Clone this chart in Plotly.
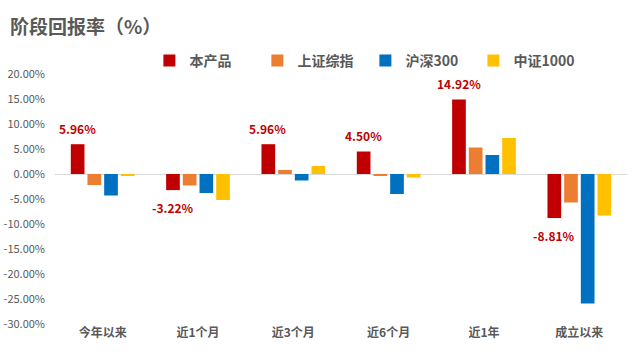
import plotly.graph_objects as go

categories = ["今年以来", "近1个月", "近3个月", "近6个月", "近1年", "成立以来"]
series_names = ["本产品", "上证综指", "沪深300", "中证1000"]
product = [5.96, -3.22, 5.96, 4.50, 14.92, -8.81]
sse = [-2.2, -2.3, 0.8, -0.3, 5.3, -5.7]
csi300 = [-4.3, -3.8, -1.3, -4.0, 3.8, -25.9]
csi1000 = [-0.3, -5.2, 1.6, -0.7, 7.2, -8.3]
tick_vals = [20, 15, 10, 5, 0, -5, -10, -15, -20, -25, -30]

colors = ["#C00000", "#ED7D31", "#0070C0", "#FFC000"]
FONT = "Noto Sans CJK SC"
GRAY = "#595959"

fig = go.Figure()
for name, vals, c in zip(series_names, [product, sse, csi300, csi1000], colors):
    fig.add_trace(go.Bar(x=categories, y=vals, name=name, marker_color=c,
                         marker_line_width=0))

for cat, v in zip(categories, product):
    fig.add_annotation(x=cat, y=v, text=f"{v:.2f}%", showarrow=False,
                       xshift=-25.5, yshift=16 if v >= 0 else -17,
                       font=dict(family=FONT, size=12, color="#C00000", weight="bold"))

fig.update_layout(
    width=640, height=361,
    margin=dict(l=55, r=13, t=74, b=37, autoexpand=False),
    paper_bgcolor="white", plot_bgcolor="white",
    barmode="group", bargap=0.3, bargroupgap=0.18,
    font=dict(family=FONT, color=GRAY),
    title=dict(text="阶段回报率（%）", x=10 / 640, xanchor="left", xref="container",
               y=1 - 27 / 361, yanchor="middle", yref="container",
               font=dict(family=FONT, size=19, color=GRAY, weight="bold")),
    legend=dict(orientation="h", x=0.165, xanchor="left", y=1.052, yanchor="middle",
                font=dict(family=FONT, size=14, color=GRAY, weight="bold"),
                itemwidth=30, traceorder="normal", entrywidth=63, entrywidthmode="pixels"),
    showlegend=True,
)
fig.update_xaxes(showgrid=False, showline=False, ticks="",
                 tickfont=dict(family=FONT, size=12, color=GRAY, weight="bold"))
fig.update_yaxes(range=[-30, 20], tickvals=tick_vals,
                 ticktext=[f"{t:.2f}%" for t in tick_vals],
                 showgrid=False, zeroline=True, zerolinecolor="#D9D9D9", zerolinewidth=1,
                 tickfont=dict(family=FONT, size=11, color=GRAY), ticks="",
                 ticklabelstandoff=9)

fig.write_html("out.html", config={"displayModeBar": False},
               post_script="document.body.style.margin='0';")
